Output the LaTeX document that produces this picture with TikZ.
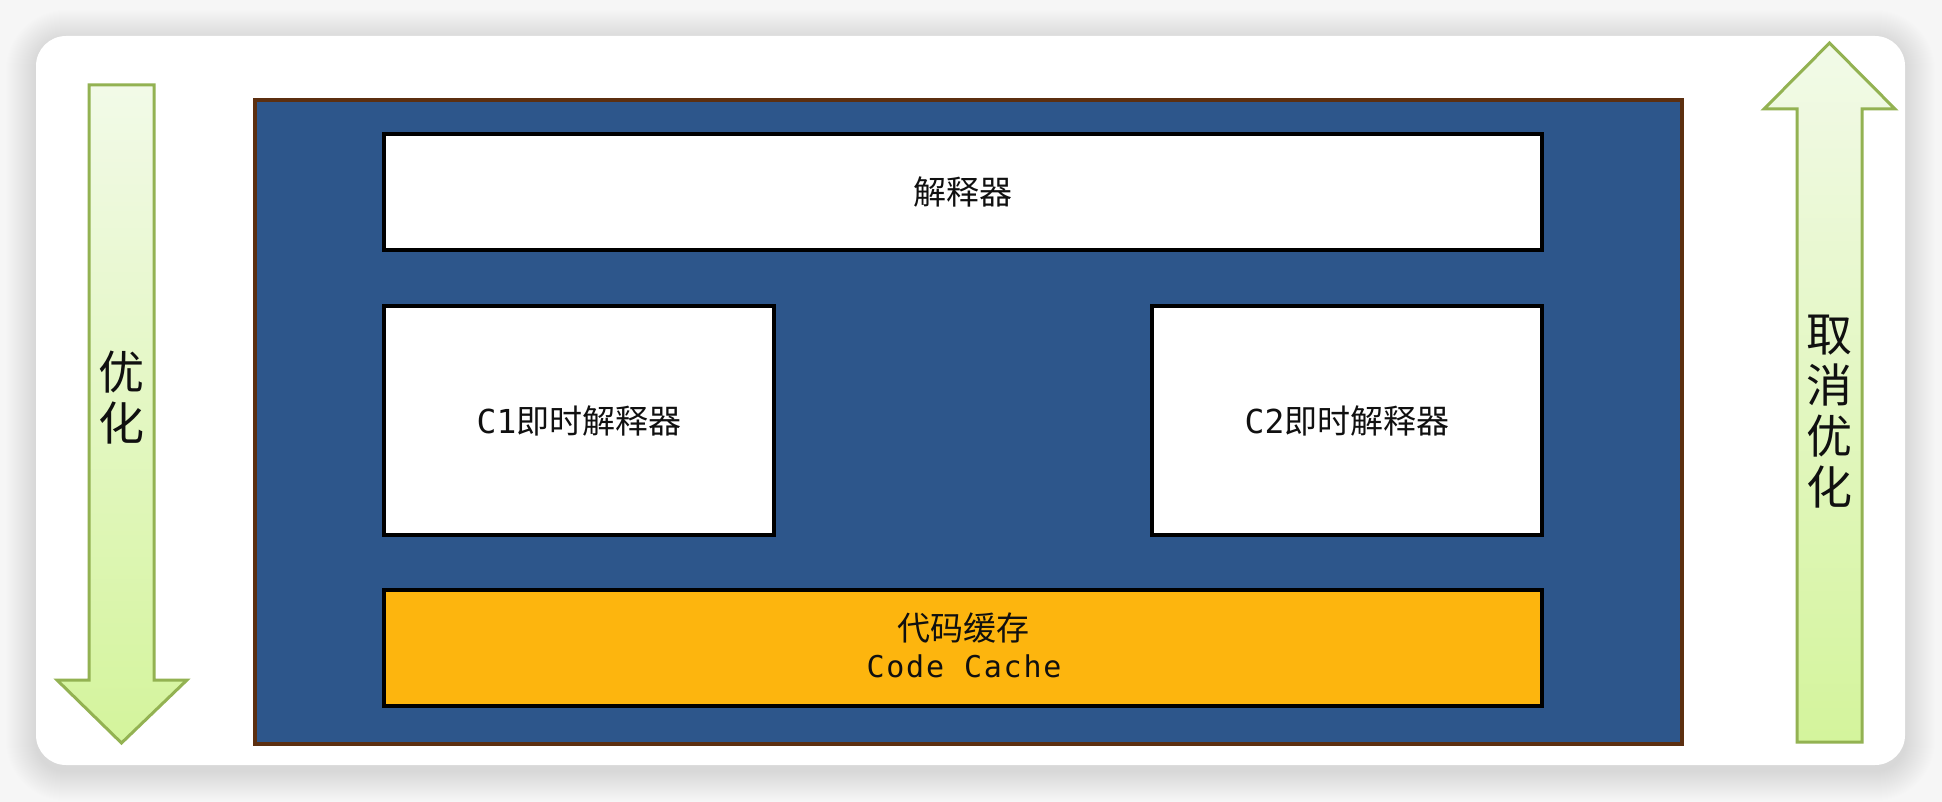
\documentclass[tikz,border=0pt]{standalone}
\usepackage{fontspec}
\newfontfamily\cjk{Noto Sans CJK SC}
\newfontfamily\mono{DejaVu Sans Mono}
\newfontfamily\monosp[LetterSpace=6]{DejaVu Sans Mono}
\definecolor{bluebg}{HTML}{2D568B}
\definecolor{brownb}{HTML}{5C2F10}
\definecolor{cacheor}{HTML}{FDB50E}
\definecolor{arrline}{HTML}{93B252}
\definecolor{arrtop}{HTML}{F2FAE8}
\definecolor{arrbot}{HTML}{D4F49C}
\definecolor{pagebg}{HTML}{F6F6F6}
\definecolor{ink}{HTML}{101010}
\tikzset{
  bigarrow/.style={draw=arrline, line width=3pt, line join=miter, top color=arrtop, bottom color=arrbot},
  arrowtext/.style={font=\cjk\fontsize{46}{51}\selectfont, text=ink, align=center, inner sep=0pt},
  whitebox/.style={draw=black, line width=4pt, fill=white, inner sep=0pt, text=ink,
    font=\cjk\fontsize{33}{38}\selectfont},
  cachebox/.style={draw=black, line width=4pt, fill=cacheor, inner sep=0pt},
  jvmbox/.style={draw=brownb, line width=4pt, fill=bluebg, inner sep=0pt},
}
\begin{document}
\begin{tikzpicture}[x=1pt,y=-1pt]
\useasboundingbox (0,0) rectangle (1942,802);
\fill[pagebg] (0,0) rectangle (1942,802);
% card shadow
\foreach \i in {1,...,30}{
  \pgfmathsetmacro{\rr}{30+\i}
  \fill[black,opacity=0.0045,rounded corners=\rr pt] (36-\i,36-\i+4) rectangle (1905+\i,765+\i+6);
}
\fill[white, rounded corners=30pt] (36,36) rectangle (1905,765);

% left arrow: optimise
\draw[bigarrow] (89,85) -- (154,85) -- (154,680) -- (187,680) -- (121.5,743) -- (57,680) -- (89,680) -- cycle;
\node[arrowtext] (opt) at (121.5,398) {优\\化};

% right arrow: de-optimise
\draw[bigarrow] (1829.5,43) -- (1895,109) -- (1862,109) -- (1862,742) -- (1797,742) -- (1797,109) -- (1764,109) -- cycle;
\node[arrowtext] (deopt) at (1829.5,412) {取\\消\\优\\化};

% JVM block
\node[jvmbox, minimum width=1427pt, minimum height=644pt] (jvm) at (968.5,422) {};

\node[whitebox, minimum width=1158pt, minimum height=116pt] (interp) at (963,192) {解释器};
\node[whitebox, minimum width=390pt, minimum height=229pt] (c1) at (579,420.5)
  {{\mono\fontsize{33}{38}\selectfont C1}即时解释器};
\node[whitebox, minimum width=390pt, minimum height=229pt] (c2) at (1347,420.5)
  {{\mono\fontsize{33}{38}\selectfont C2}即时解释器};
\node[cachebox, minimum width=1158pt, minimum height=116pt] (cache) at (963,648) {};
\node[anchor=base, inner sep=0pt, text=ink, font=\cjk\fontsize{33}{38}\selectfont] (cachecn) at (963,640) {代码缓存};
\node[anchor=base, inner sep=0pt, text=ink, font=\monosp\fontsize{30}{36}\selectfont] (cacheen) at (964,677) {Code Cache};
\end{tikzpicture}
\end{document}
